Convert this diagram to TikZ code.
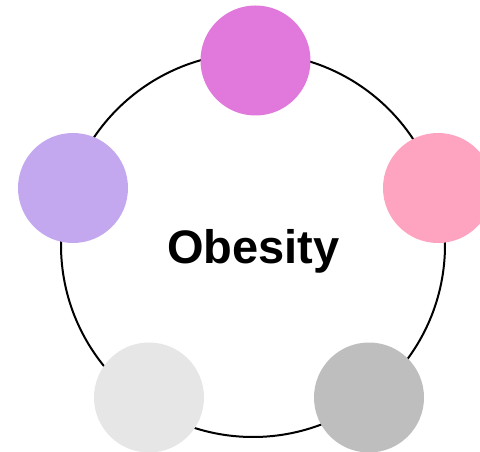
\documentclass[tikz,border=0pt]{standalone}
\usepackage{fontspec}
\setmainfont{Liberation Sans}
\definecolor{cmag}{HTML}{E178DB}
\definecolor{clav}{HTML}{C3A8F0}
\definecolor{cpink}{HTML}{FFA4C0}
\definecolor{clgray}{HTML}{E6E6E6}
\definecolor{cgray}{HTML}{BEBEBE}
\begin{document}
\begin{tikzpicture}[x=1pt,y=-1pt,
  dot/.style={circle,minimum size=110pt,inner sep=0pt,draw=none,fill=#1},
  ring/.style={circle,minimum size=384pt,inner sep=0pt,draw=black,line width=2pt}]
\useasboundingbox (0,0) rectangle (480,452);
\node[ring] (ring) at (253,245) {};
\node[font=\bfseries\fontsize{47}{56}\selectfont,anchor=base] (title) at (253.5,263) {Obesity};
\node[dot=cmag] (top) at (255.5,60.5) {};
\node[dot=clav] (left) at (73,188) {};
\node[dot=cpink] (right) at (438,188) {};
\node[dot=clgray] (bl) at (149,397.5) {};
\node[dot=cgray] (br) at (369,397.5) {};
\end{tikzpicture}
\end{document}
